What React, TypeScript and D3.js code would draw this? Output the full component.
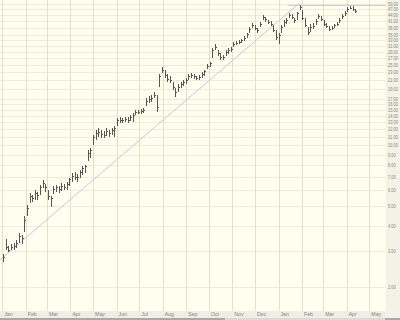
import React from 'react';
import * as d3 from 'd3';

// Half-weekly price bars (high / low / close)
const HIGH = [
  2.9, 3.45, 3.2, 3.27, 3.3, 3.4, 3.7, 3.6, 4.5, 5.1,
  5.8, 5.7, 6.0, 5.9, 6.4, 6.75, 6.46, 6.0, 5.6, 6.3,
  6.4, 6.3, 6.5, 6.46, 6.6, 6.9, 7.3, 7.4, 7.25, 7.6,
  7.9, 8.0, 9.5, 9.7, 11.3, 11.9, 12.2, 11.9, 11.8, 12.2,
  11.9, 12.2, 12.5, 13.7, 13.8, 13.7, 13.8, 13.8, 14.1, 14.5,
  15.0, 15.0, 15.2, 15.3, 17.2, 17.6, 17.8, 18.4, 17.8, 22.6,
  24.4, 23.6, 22.6, 22.1, 20.6, 19.2, 20.1, 20.6, 21.1, 21.6,
  22.6, 22.8, 22.6, 22.1, 22.3, 23.1, 23.6, 25.3, 25.8, 30.3,
  31.7, 29.6, 28.6, 28.0, 29.6, 30.3, 30.7, 32.5, 32.8, 33.2,
  33.6, 34.8, 36.0, 38.5, 40.3, 39.4, 38.1, 40.8, 44.1, 43.1,
  41.7, 41.2, 39.4, 37.2, 36.0, 39.4, 41.7, 42.6, 45.1, 44.6,
  42.6, 45.6, 49.6, 46.7, 42.6, 38.5, 39.8, 40.3, 42.2, 44.6,
  43.6, 41.7, 40.3, 38.9, 38.9, 39.8, 40.8, 42.6, 44.6, 46.2,
  48.3, 49.0, 48.9, 47.2,
];
const LOW = [
  2.65, 3.05, 2.98, 3.05, 3.05, 3.1, 3.3, 3.27, 3.75, 4.5,
  5.2, 5.27, 5.4, 5.4, 5.7, 6.15, 5.9, 5.4, 4.95, 5.75,
  5.9, 5.8, 5.95, 6.0, 6.0, 6.3, 6.6, 6.75, 6.6, 6.9,
  7.15, 7.3, 8.4, 8.7, 10.1, 10.6, 11.0, 10.9, 10.9, 11.1,
  11.0, 11.3, 11.0, 12.5, 12.9, 12.9, 13.1, 12.9, 13.2, 13.1,
  14.1, 14.3, 14.3, 14.5, 15.7, 16.2, 16.4, 17.2, 14.6, 19.5,
  22.8, 21.6, 20.6, 20.4, 18.8, 17.4, 18.4, 19.2, 19.7, 20.1,
  21.1, 21.6, 21.3, 21.1, 21.1, 21.6, 22.1, 23.9, 24.4, 27.0,
  29.6, 27.7, 26.4, 26.4, 27.7, 28.3, 29.0, 30.7, 31.4, 31.7,
  32.1, 32.8, 34.0, 36.0, 38.1, 37.2, 36.0, 38.5, 41.7, 40.8,
  39.8, 38.9, 36.4, 33.2, 31.7, 36.0, 38.5, 39.8, 42.6, 42.2,
  40.3, 41.7, 46.7, 41.7, 38.5, 35.1, 36.4, 37.6, 39.4, 42.2,
  41.2, 38.9, 38.1, 36.8, 37.2, 38.1, 38.9, 40.3, 42.2, 43.6,
  45.6, 47.2, 46.2, 45.1,
];
const CLOSE = [
  2.8, 3.15, 3.05, 3.15, 3.2, 3.3, 3.55, 3.5, 4.3, 4.9,
  5.6, 5.5, 5.8, 5.7, 6.2, 6.5, 6.2, 5.6, 5.5, 6.1,
  6.2, 6.1, 6.3, 6.25, 6.45, 6.8, 7.1, 7.0, 7.0, 7.4,
  7.7, 7.9, 9.2, 9.5, 11.0, 11.5, 11.6, 11.4, 11.3, 11.8,
  11.5, 11.9, 12.2, 13.3, 13.4, 13.3, 13.5, 13.4, 13.8, 14.2,
  14.6, 14.7, 14.8, 15.0, 16.6, 17.0, 17.2, 17.8, 15.4, 22.0,
  23.6, 22.4, 21.3, 21.0, 19.4, 18.4, 19.5, 20.0, 20.5, 21.0,
  22.0, 22.2, 22.0, 21.5, 21.8, 22.5, 23.2, 24.8, 25.5, 29.5,
  30.5, 28.5, 27.3, 27.5, 28.8, 29.5, 30.0, 31.8, 32.2, 32.4,
  33.0, 34.0, 35.4, 37.8, 39.5, 38.2, 37.0, 40.0, 43.2, 42.0,
  40.6, 39.6, 37.2, 34.2, 35.0, 38.5, 40.8, 41.5, 44.2, 43.2,
  41.8, 45.0, 48.5, 42.8, 39.5, 36.5, 38.5, 39.0, 41.2, 43.8,
  42.2, 40.0, 38.8, 37.6, 38.0, 39.2, 40.0, 41.8, 43.5, 45.2,
  47.2, 48.0, 47.0, 46.0,
];

const PRICE_TICKS = [2, 3, 4, 5, 6, 7, 8, 9, 10, 11, 12, 13, 14, 15, 16, 17, 19, 21, 23, 25, 27, 29, 31, 33, 35, 38, 41, 44, 47, 50];

const FIRST_BAR = new Date(2006, 0, 2);
const X_START = new Date(2005, 11, 29);
const X_END = new Date(2007, 4, 23);
const MONTH_START = new Date(2006, 0, 1);
const MONTH_END = new Date(2007, 5, 1);

const TREND_DATES = [new Date(2005, 11, 29), new Date(2007, 0, 29)];
const TREND_VALUES = [2.72, 50.6];
const RESIST_DATES = [new Date(2007, 0, 13), new Date(2007, 4, 23)];
const RESIST_VALUES = [49.2, 49.2];

const W = 400;
const H = 320;
const PW = 386;
const PH = 311;

export default function App() {
  const x = d3.scaleTime().domain([X_START, X_END]).range([0, PW]);
  const y = d3.scaleLog().domain([52.3, 1.52]).range([0, PH]);
  const dates = CLOSE.map((_, i) => d3.timeHour.offset(FIRST_BAR, i * 84));
  const months = d3.timeMonth.range(MONTH_START, MONTH_END);
  const fmtMonth = d3.timeFormat('%b');
  const line = d3
    .line<number>()
    .x((_, i) => x(TREND_DATES[i]))
    .y((v) => y(v));
  const rline = d3
    .line<number>()
    .x((_, i) => x(RESIST_DATES[i]))
    .y((v) => y(v));
  const px = (v: number) => Math.round(v) + 0.5;
  const labelFont = "'Liberation Sans', Arial, sans-serif";

  return (
    <svg
      width={W}
      height={H}
      style={{ position: 'absolute', left: 0, top: 0, display: 'block' }}
    >
      <rect x={0} y={0} width={W} height={H} fill="#F3F2E6" />
      <rect x={0} y={0} width={PW} height={PH} fill="#FFFFF0" />
      <rect x={0} y={PH} width={PW} height={7} fill="#EFEEE2" />
      <rect x={0} y={318} width={W} height={2} fill="#A9A9A9" />
      <rect x={225} y={318} width={160} height={2} fill="#DADADA" />

      {PRICE_TICKS.map((t) => (
        <line
          key={'h' + t}
          x1={0}
          x2={PW}
          y1={px(y(t))}
          y2={px(y(t))}
          stroke="#EFEDD8"
          strokeWidth={1}
          shapeRendering="crispEdges"
        />
      ))}
      {months.map((m) => (
        <line
          key={'v' + m.getTime()}
          x1={px(x(m))}
          x2={px(x(m))}
          y1={0}
          y2={PH}
          stroke="#E2E0C8"
          strokeWidth={1}
          shapeRendering="crispEdges"
        />
      ))}

      <path d={line(TREND_VALUES) || ''} fill="none" stroke="#C3C8DA" strokeWidth={1} />
      <path d={rline(RESIST_VALUES) || ''} fill="none" stroke="#C3C8DA" strokeWidth={1} />

      {dates.map((d, i) => {
        const cx = px(x(d));
        return (
          <g key={'b' + i} stroke="#555555" strokeWidth={1} shapeRendering="crispEdges">
            <line x1={cx} x2={cx} y1={y(HIGH[i])} y2={y(LOW[i])} />
            <line x1={cx} x2={cx + 1} y1={px(y(CLOSE[i]))} y2={px(y(CLOSE[i]))} />
          </g>
        );
      })}

      {PRICE_TICKS.map((t) => {
        const s = t.toFixed(2);
        return (
          <text
            key={'t' + t}
            x={388}
            y={y(t) + 1.9}
            fontSize={5.2}
            fontFamily={labelFont}
            fill="#85857A"
            textLength={s.length === 5 ? 10 : 7.6}
            lengthAdjust="spacingAndGlyphs"
          >
            {s}
          </text>
        );
      })}

      {months.map((m) => (
        <text
          key={'m' + m.getTime()}
          x={x(m) + 2}
          y={316}
          fontSize={5.2}
          fontFamily={labelFont}
          fill="#85857A"
        >
          {fmtMonth(m)}
        </text>
      ))}
    </svg>
  );
}
